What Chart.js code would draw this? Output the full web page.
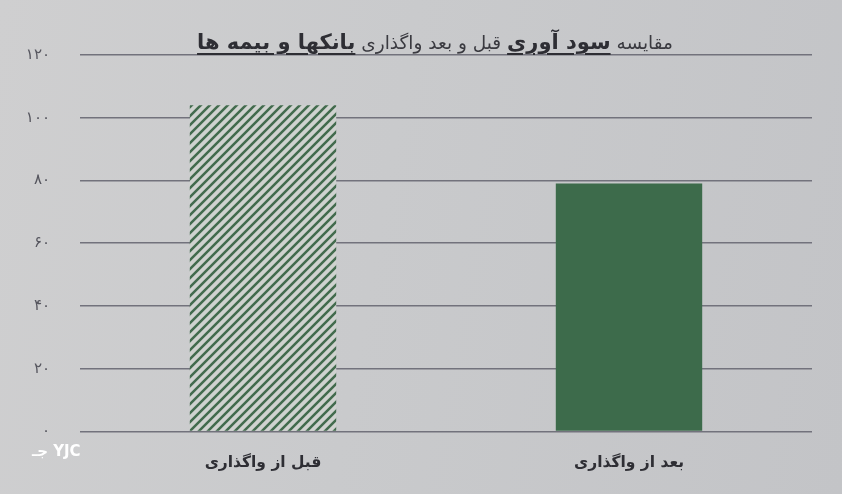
<!DOCTYPE html>
<html lang="fa">
<head>
<meta charset="utf-8">
<script src="https://cdn.jsdelivr.net/npm/chart.js@4/dist/chart.umd.min.js"></script>
<style>
  html, body { margin: 0; padding: 0; }
  body {
    width: 842px; height: 494px; overflow: hidden; position: relative;
    background: linear-gradient(100deg, #cfcfd0 0%, #c9cacc 45%, #c3c4c7 100%);
    font-family: "DejaVu Sans", sans-serif;
  }
  #wrap { position: absolute; left: 0; top: 0; width: 842px; height: 494px; }
  #title {
    position: absolute; top: 30px; left: 150px; width: 570px;
    direction: rtl; text-align: center; white-space: nowrap;
    font-size: 18.5px; color: #3a3a40;
  }
  #title b { font-size: 21px; text-decoration: underline; text-underline-offset: 4px; color: #2e2e34; }
  #logo {
    position: absolute; left: 32px; top: 442px; color: #fff;
    font-weight: bold; font-size: 15px; font-family: "DejaVu Sans", sans-serif;
  }
</style>
</head>
<body>
<div id="wrap"><canvas id="chart" width="842" height="494"></canvas></div>
<div id="title">مقایسه <b>سود آوری</b> قبل و بعد واگذاری <b>بانکها و بیمه ها</b></div>
<div id="logo">جـ YJC</div>
<script>
// داده‌ها
const categories = ['قبل از واگذاری', 'بعد از واگذاری'];
const profitValues = [104, 79];
const yTicks = [0, 20, 40, 60, 80, 100, 120];

const faDigits = '۰۱۲۳۴۵۶۷۸۹';
function toFa(n) {
  return String(n).replace(/\d/g, d => faDigits[d]);
}

// الگوی هاشور
function makeHatch() {
  const c = document.createElement('canvas');
  c.width = 9; c.height = 9;
  const g = c.getContext('2d');
  g.fillStyle = '#cfd2cf';
  g.fillRect(0, 0, 9, 9);
  g.strokeStyle = '#426b4d';
  g.lineWidth = 2.5;
  g.beginPath();
  g.moveTo(-2, 11); g.lineTo(11, -2);
  g.moveTo(-6.5, 6.5); g.lineTo(6.5, -6.5);
  g.moveTo(2.5, 15.5); g.lineTo(15.5, 2.5);
  g.stroke();
  return g.createPattern(c, 'repeat');
}

const ctx = document.getElementById('chart').getContext('2d');
new Chart(ctx, {
  type: 'bar',
  data: {
    labels: categories,
    datasets: [{
      data: profitValues,
      backgroundColor: [makeHatch(), '#3d6b4b'],
      borderWidth: 0,
      barPercentage: 0.4,
      categoryPercentage: 1
    }]
  },
  options: {
    responsive: false,
    animation: false,
    layout: { padding: { top: 55, left: 16, right: 30, bottom: 0 } },
    plugins: { legend: { display: false }, title: { display: false }, tooltip: { enabled: false } },
    scales: {
      y: {
        min: 0, max: 120,
        afterBuildTicks: axis => { axis.ticks = yTicks.map(v => ({ value: v })); },
        afterFit: axis => { axis.width = 64; },
        border: { display: false },
        grid: { color: '#72727c', lineWidth: 1.5, drawTicks: false },
        ticks: {
          padding: 30,
          color: '#55555e',
          font: { family: 'DejaVu Sans', size: 15 },
          callback: v => toFa(v)
        }
      },
      x: {
        border: { display: false },
        grid: { display: false, drawTicks: false },
        ticks: {
          padding: 22,
          color: '#2e2e34',
          font: { family: 'DejaVu Sans', size: 15.5, weight: 'bold' }
        }
      }
    }
  }
});
</script>
</body>
</html>
